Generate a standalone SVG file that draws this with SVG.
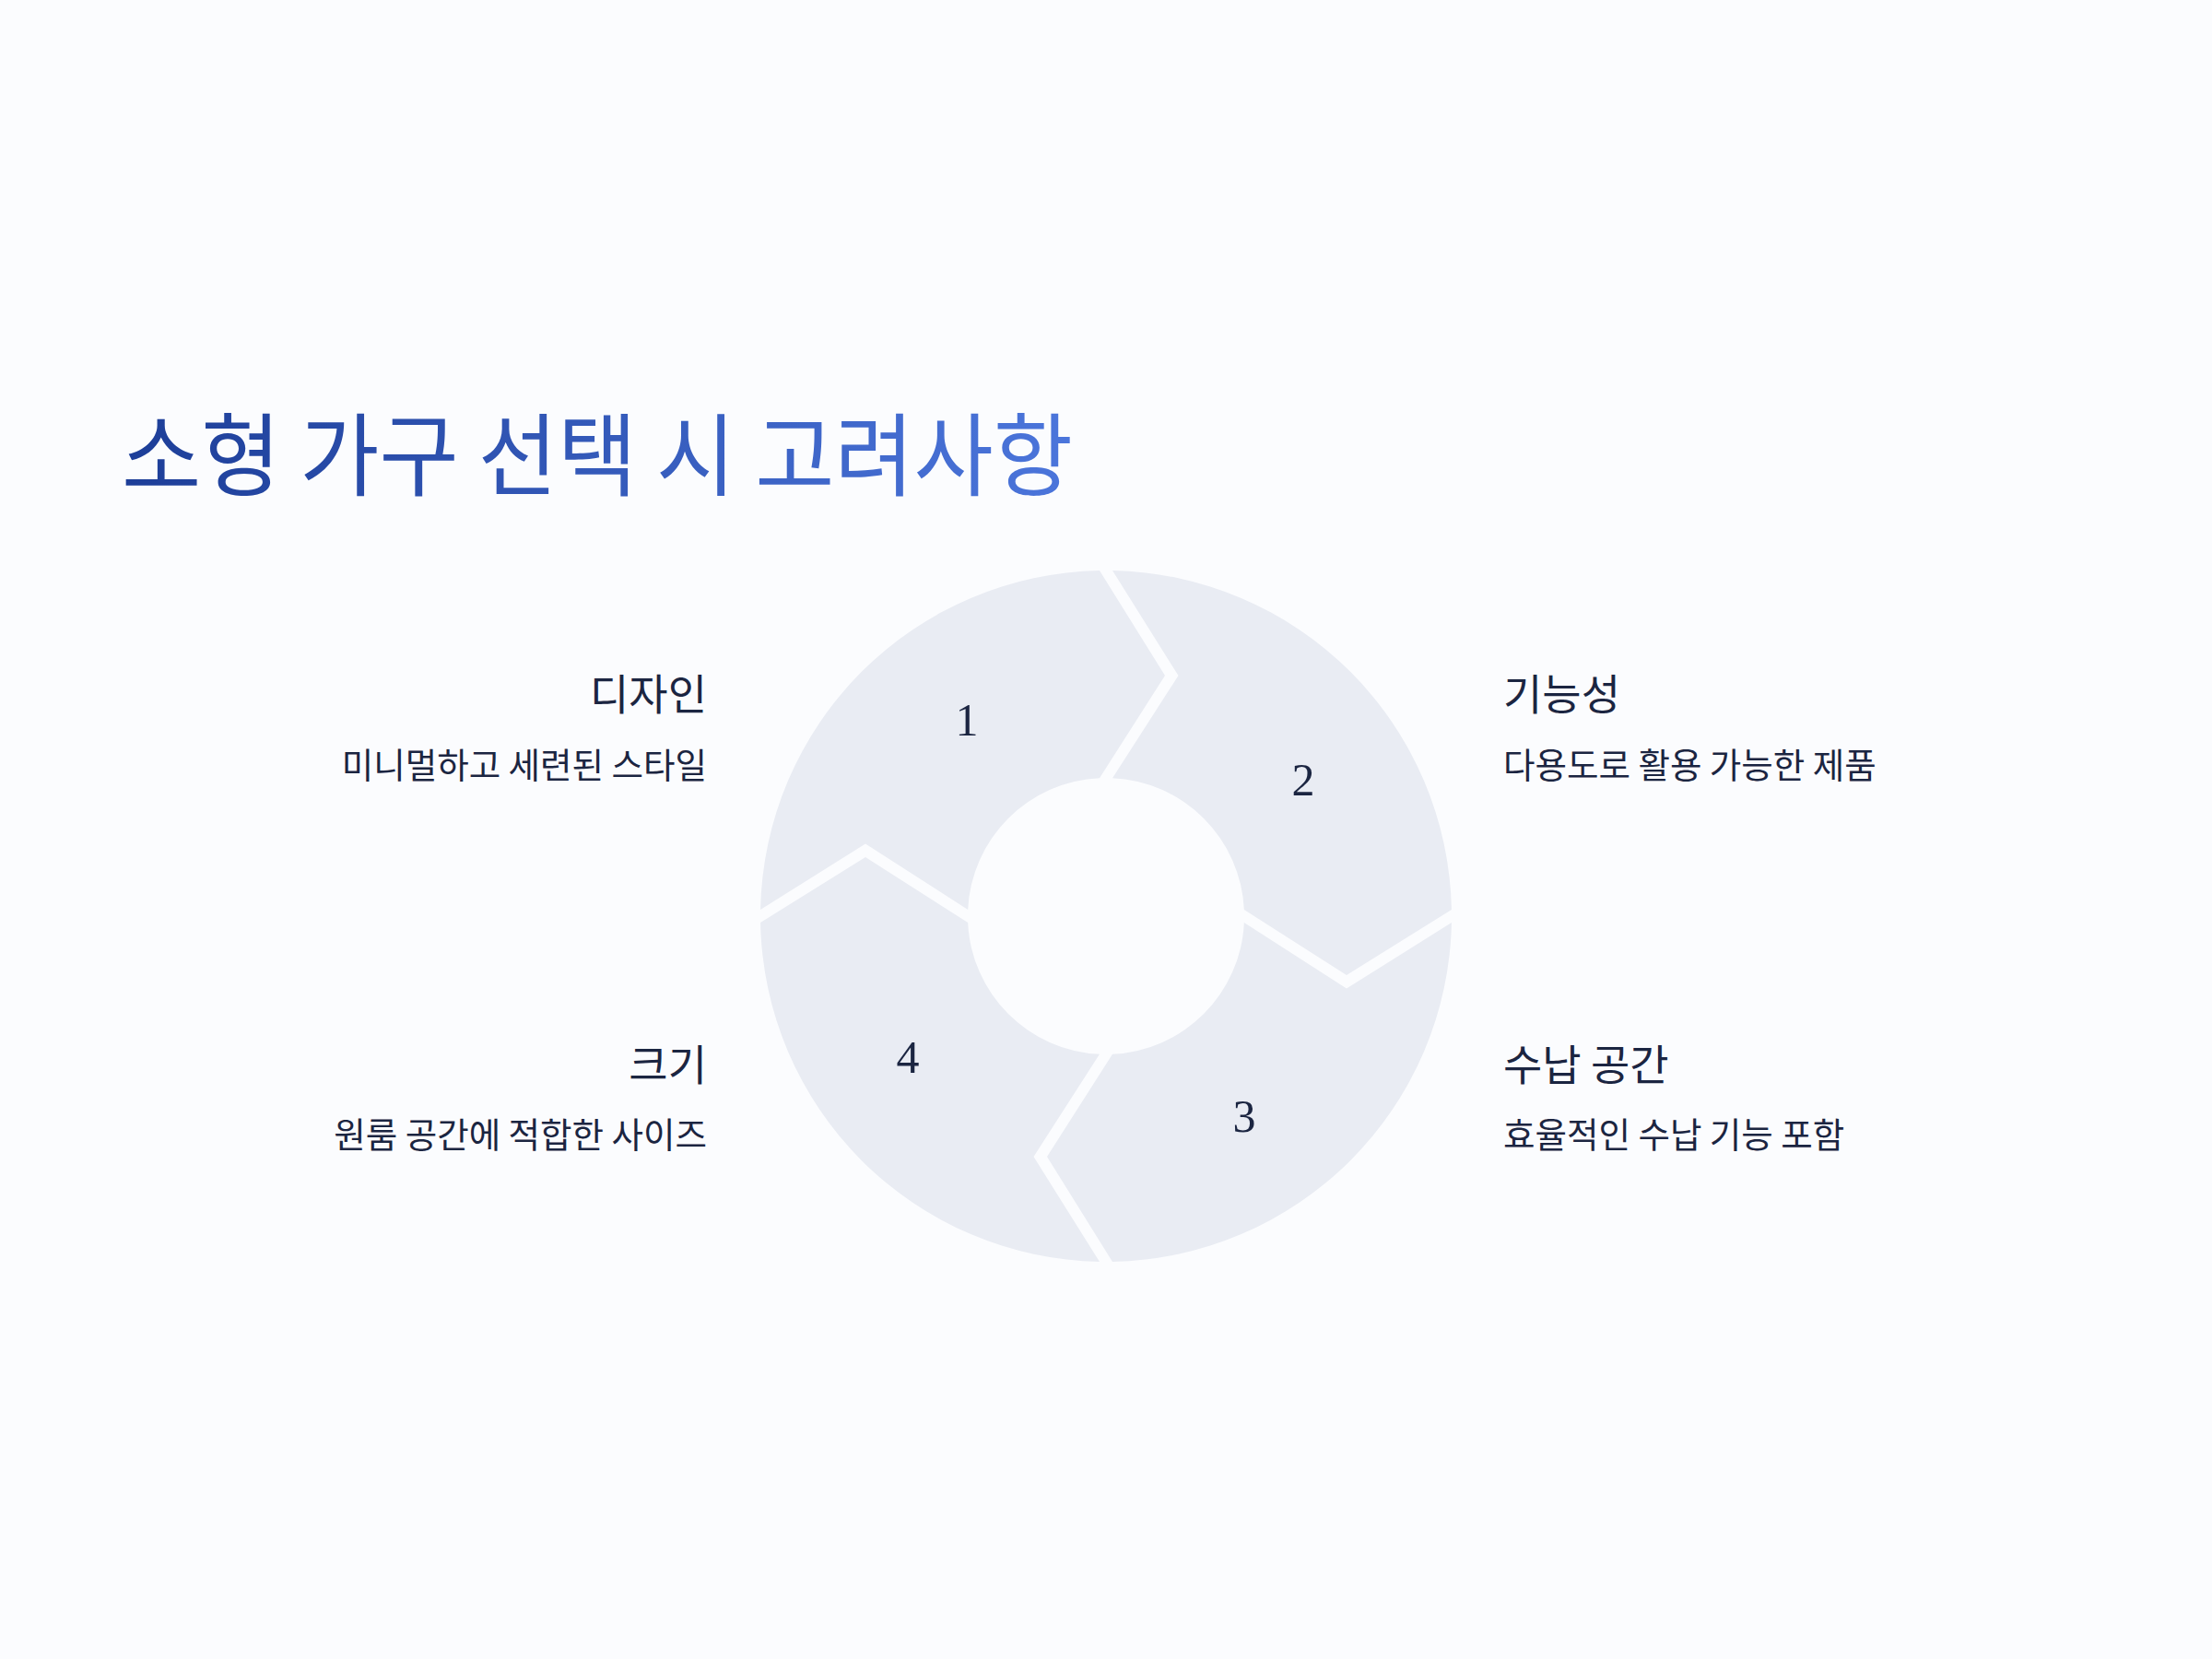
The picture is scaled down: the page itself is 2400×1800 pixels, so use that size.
<svg xmlns="http://www.w3.org/2000/svg" xmlns:xlink="http://www.w3.org/1999/xlink" width="2400" height="1800" viewBox="0 0 2400 1800">
  <style>
    .seg { fill: #E9ECF3; }
    .num { font-family: "Liberation Serif", "DejaVu Serif", serif; font-size: 50px; fill: #1B2541; text-anchor: middle; }
    .head { font-family: "Noto Sans CJK KR", "Noto Sans", sans-serif; font-size: 46px; fill: #1B2541; }
    .sub { font-family: "Noto Sans CJK KR", "Noto Sans", sans-serif; font-size: 37.5px; fill: #1B2541; }
    .left { text-anchor: end; }
    .title { font-family: "Noto Sans CJK KR", "Noto Sans", sans-serif; font-size: 98px; }
  </style>
  <defs>
    <linearGradient id="tg" gradientUnits="userSpaceOnUse" x1="135" y1="0" x2="1160" y2="0">
      <stop offset="0" stop-color="#1D3E98"/>
      <stop offset="1" stop-color="#4B75DB"/>
    </linearGradient>
    <path id="segShape" d="M825.07 987 A375 375 0 0 1 1193 619.07 L1264 733 L1193 844.16 A150 150 0 0 0 1050.16 987 L939 915.5 Z"/>
  </defs>
  <rect width="2400" height="1800" fill="#FBFCFE"/>

  <g id="title">
    <text class="title" x="132" y="530" fill="url(#tg)" textLength="1032" lengthAdjust="spacingAndGlyphs">소형 가구 선택 시 고려사항</text>
  </g>

  <g id="connectors"></g>

  <g id="node-1">
    <use xlink:href="#segShape" class="seg"/>
    <text class="num" x="1049" y="798">1</text>
  </g>
  <g id="node-2">
    <use xlink:href="#segShape" class="seg" transform="rotate(90 1200 994)"/>
    <text class="num" x="1414" y="863">2</text>
  </g>
  <g id="node-3">
    <use xlink:href="#segShape" class="seg" transform="rotate(180 1200 994)"/>
    <text class="num" x="1350" y="1228">3</text>
  </g>
  <g id="node-4">
    <use xlink:href="#segShape" class="seg" transform="rotate(270 1200 994)"/>
    <text class="num" x="985" y="1164">4</text>
  </g>

  <g id="label-design">
    <text class="head left" x="767" y="770">디자인</text>
    <text class="sub left" x="767" y="844">미니멀하고 세련된 스타일</text>
  </g>
  <g id="label-function">
    <text class="head" x="1631" y="770">기능성</text>
    <text class="sub" x="1631" y="844">다용도로 활용 가능한 제품</text>
  </g>
  <g id="label-size">
    <text class="head left" x="767" y="1172">크기</text>
    <text class="sub left" x="767" y="1245">원룸 공간에 적합한 사이즈</text>
  </g>
  <g id="label-storage">
    <text class="head" x="1631" y="1172">수납 공간</text>
    <text class="sub" x="1631" y="1245">효율적인 수납 기능 포함</text>
  </g>
</svg>
